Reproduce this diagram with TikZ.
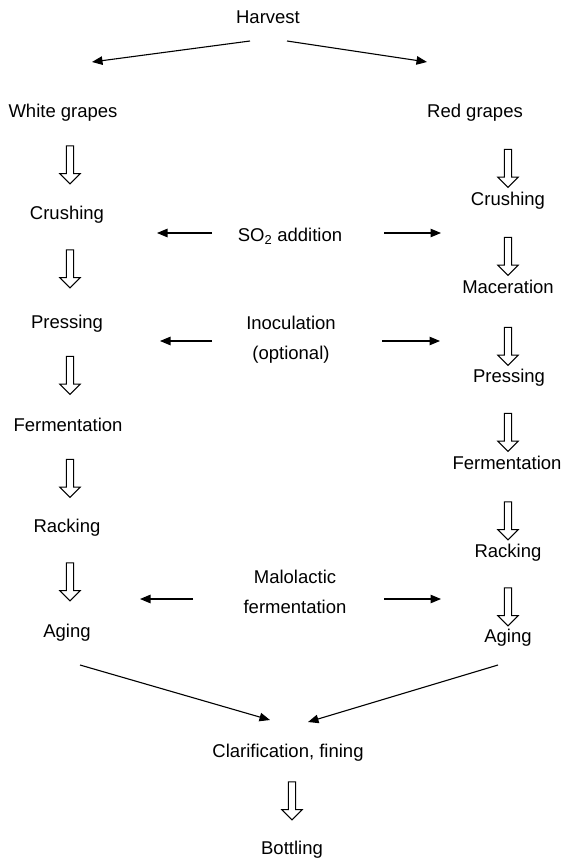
\documentclass[tikz,border=0pt]{standalone}
\usepackage{fontspec}
\setmainfont{Liberation Sans}
\usetikzlibrary{arrows.meta,shapes.arrows}
\begin{document}
\begin{tikzpicture}[x=1pt,y=-1pt,
  lbl/.style={font=\fontsize{18.5pt}{30pt}\selectfont, inner sep=0pt, align=center},
  stage/.style={lbl, anchor=base},
  arr/.style={line width=1.1pt, -{Triangle[length=10.5pt,width=8.5pt]}},
  flow/.style={draw, line width=1pt, single arrow, rotate=-90,
    minimum height=38pt, minimum width=0pt, inner xsep=0pt, inner ysep=3.2pt,
    single arrow head extend=6.5pt, single arrow tip angle=90}]
\useasboundingbox (0,0) rectangle (567,858);

% top
\node[stage] (harvest) at (268,24) {Harvest};
\node[stage] (wg) at (63,118) {White grapes};
\node[stage] (rg) at (475,118) {Red grapes};
\coordinate (h1s) at (250,41);
\coordinate (h1e) at (92,62);
\coordinate (h2s) at (287,41);
\coordinate (h2e) at (427,62);
\draw[arr] (h1s) -- (h1e);
\draw[arr] (h2s) -- (h2e);

% white wine column
\node[stage] (cr1) at (67,220) {Crushing};
\node[stage] (pr1) at (67,328) {Pressing};
\node[stage] (fe1) at (68,431) {Fermentation};
\node[stage] (ra1) at (67,532) {Racking};
\node[stage] (ag1) at (67,637) {Aging};
\node[flow] (w1) at (70,163) {};
\node[flow] (w2) at (70,267) {};
\node[flow] (w3) at (70,373.5) {};
\node[flow] (w4) at (70,476.5) {};
\node[flow] (w5) at (70,580) {};

% red wine column
\node[stage] (cr2) at (508,206) {Crushing};
\node[stage] (ma2) at (508,294) {Maceration};
\node[stage] (pr2) at (509,382) {Pressing};
\node[stage] (fe2) at (507,469) {Fermentation};
\node[stage] (ra2) at (508,557) {Racking};
\node[stage] (ag2) at (508,642) {Aging};
\node[flow] (r1) at (508,166.5) {};
\node[flow] (r2) at (508,254.5) {};
\node[flow] (r3) at (508,344.5) {};
\node[flow] (r4) at (508,430.5) {};
\node[flow] (r5) at (508,519) {};
\node[flow] (r6) at (508,605) {};

% treatments applied to both
\node[lbl] (so2) at (290,236) {SO\textsubscript{2} addition};
\node[lbl] (inoc) at (291,340) {Inoculation\\(optional)};
\node[lbl] (malo) at (295,592) {Malolactic\\fermentation};
\coordinate (s1s) at (212,233); \coordinate (s1e) at (157,233);
\coordinate (s2s) at (384,233); \coordinate (s2e) at (441,233);
\coordinate (i1s) at (212,341); \coordinate (i1e) at (160,341);
\coordinate (i2s) at (382,341); \coordinate (i2e) at (440,341);
\coordinate (m1s) at (193,599); \coordinate (m1e) at (140,599);
\coordinate (m2s) at (384,599); \coordinate (m2e) at (441,599);
\draw[arr] (s1s) -- (s1e);
\draw[arr] (s2s) -- (s2e);
\draw[arr] (i1s) -- (i1e);
\draw[arr] (i2s) -- (i2e);
\draw[arr] (m1s) -- (m1e);
\draw[arr] (m2s) -- (m2e);

% finishing
\node[stage] (clar) at (288,757) {Clarification, fining};
\node[stage] (bott) at (292,854) {Bottling};
\node[flow] (b1) at (292,799) {};
\coordinate (c1s) at (80,665); \coordinate (c1e) at (270,720);
\coordinate (c2s) at (498,665); \coordinate (c2e) at (308,722);
\draw[arr] (c1s) -- (c1e);
\draw[arr] (c2s) -- (c2e);
\end{tikzpicture}
\end{document}
